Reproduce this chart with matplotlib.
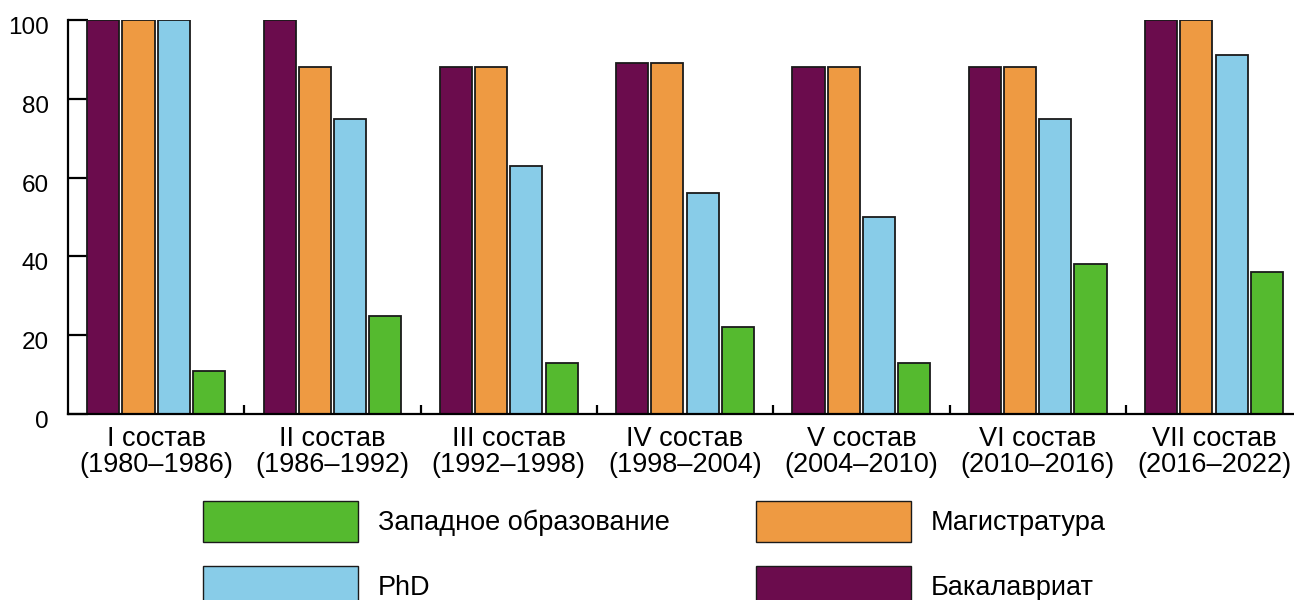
import numpy as np
import matplotlib
matplotlib.use('Agg')
from matplotlib import pyplot as plt
from matplotlib.patches import Patch
import matplotlib.transforms as mtransforms

plt.rcParams['font.family'] = ['Liberation Sans', 'DejaVu Sans']

groups = ['I состав\n(1980–1986)', 'II состав\n(1986–1992)', 'III состав\n(1992–1998)',
          'IV состав\n(1998–2004)', 'V состав\n(2004–2010)', 'VI состав\n(2010–2016)',
          'VII состав\n(2016–2022)']
bachelor = [100, 100, 88, 89, 88, 88, 100]
master = [100, 88, 88, 89, 88, 88, 100]
phd = [100, 75, 63, 56, 50, 75, 91]
western = [11, 25, 13, 22, 13, 38, 36]

c_bach = '#6b0c4d'
c_mast = '#ee9a42'
c_phd = '#88cce8'
c_west = '#55ba2f'

fig = plt.figure(figsize=(12.94, 6), dpi=100)
ax = fig.add_axes([68 / 1294, 1 - 414 / 600, (1294 - 68) / 1294, 394 / 600])

x = np.arange(len(groups))
w = 0.182
kw = dict(width=w, edgecolor='#1a1a1a', linewidth=1.3, zorder=2)
ax.bar(x + 0.2, bachelor, color=c_bach, **kw)
ax.bar(x + 0.4, master, color=c_mast, **kw)
ax.bar(x + 0.6, phd, color=c_phd, **kw)
ax.bar(x + 0.8, western, color=c_west, **kw)

ax.set_xlim(0, 1226 / 176.3)
ax.set_ylim(0, 100)

for s in ['top', 'right']:
    ax.spines[s].set_visible(False)
ax.spines['left'].set_linewidth(1.6)
ax.spines['bottom'].set_linewidth(1.6)

ax.set_yticks([0, 20, 40, 60, 80, 100])
ax.tick_params(axis='y', direction='in', length=14.5, width=1.6, pad=14, labelsize=17.5)
for lab in ax.get_yticklabels():
    lab.set_transform(lab.get_transform() + mtransforms.ScaledTranslation(0, -4 / 72, fig.dpi_scale_trans))

ax.set_xticks(x + 0.5)
ax.set_xticklabels(groups, linespacing=1.0)
ax.tick_params(axis='x', which='major', length=0, pad=9, labelsize=19.5)
ax.set_xticks(np.arange(1, len(groups)), minor=True)
ax.tick_params(axis='x', which='minor', direction='in', length=6.5, width=1.6)

handles = [Patch(facecolor=c_west, edgecolor='#1a1a1a', linewidth=1.0),
           Patch(facecolor=c_phd, edgecolor='#1a1a1a', linewidth=1.0),
           Patch(facecolor=c_mast, edgecolor='#1a1a1a', linewidth=1.0),
           Patch(facecolor=c_bach, edgecolor='#1a1a1a', linewidth=1.0)]
labels = ['Западное образование', 'PhD', 'Магистратура', 'Бакалавриат']
fig.legend(handles, labels, ncol=2, loc='upper left',
           bbox_to_anchor=(203 / 1294, 1 - 501 / 600), frameon=False,
           fontsize=19.5, handlelength=5.72, handleheight=1.93, handletextpad=0.74,
           columnspacing=3.19, labelspacing=0.89, borderpad=0, borderaxespad=0)

fig.savefig('out.png', dpi=100)
